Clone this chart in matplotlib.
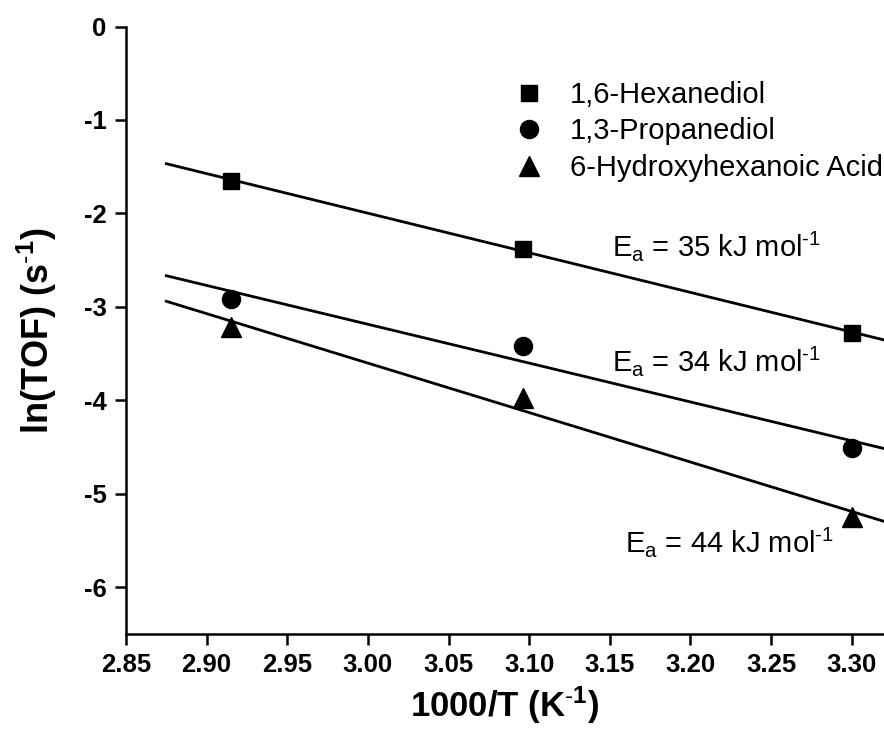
import matplotlib
matplotlib.use('Agg')
import matplotlib.pyplot as plt
import numpy as np

plt.rcParams['font.family'] = ['Liberation Sans', 'DejaVu Sans']
plt.rcParams['mathtext.fontset'] = 'custom'
plt.rcParams['mathtext.rm'] = 'Liberation Sans'
plt.rcParams['mathtext.bf'] = 'Liberation Sans:bold'
plt.rcParams['mathtext.it'] = 'Liberation Sans:italic'
plt.rcParams['axes.unicode_minus'] = False

# data
inv_T = [2.915, 3.096, 3.300]
hexanediol = [-1.65, -2.38, -3.28]
propanediol = [-2.92, -3.42, -4.51]
hydroxyhexanoic = [-3.22, -3.98, -5.25]

names = ['1,6-Hexanediol', '1,3-Propanediol', '6-Hydroxyhexanoic Acid']
markers = ['s', 'o', '^']
msizes = [12, 13, 14]
ea_labels = ['35', '34', '44']
ea_pos = [(3.1515, -2.46), (3.1515, -3.69), (3.1596, -5.62)]

fig = plt.figure(figsize=(8.84, 7.45), dpi=100)
ax = fig.add_axes([0.1425, 0.149, 0.8575, 0.8154])

x = np.array(inv_T)
xfit = np.array([2.875, 3.34])
for ys, m, ms, name in zip([hexanediol, propanediol, hydroxyhexanoic], markers, msizes, names):
    k, b = np.polyfit(x, ys, 1)
    ax.plot(xfit, k * xfit + b, color='black', lw=2.0)
    ax.plot(x, ys, linestyle='none', marker=m, ms=ms, color='black', label=name)

for val, (tx, ty) in zip(ea_labels, ea_pos):
    ax.text(tx, ty, r'E$_\mathrm{a}$ = ' + val + r' kJ mol$^\mathrm{\text{-}1}$', fontsize=21, va='baseline', ha='left')

ax.set_xlim(2.85, 3.32)
ax.set_ylim(-6.5, 0)
ax.set_xticks(np.arange(2.85, 3.31, 0.05))
ax.set_xticklabels([f'{v:.2f}' for v in np.arange(2.85, 3.31, 0.05)])
ax.set_yticks(np.arange(-6, 1, 1))

for s in ['top', 'right']:
    ax.spines[s].set_visible(False)
for s in ['left', 'bottom']:
    ax.spines[s].set_linewidth(1.8)
ax.tick_params(direction='out', length=8, width=1.8, labelsize=18.5, pad=6)
for lab in ax.get_xticklabels() + ax.get_yticklabels():
    lab.set_fontweight('bold')

ax.set_xlabel(r'1000/T (K$^\mathbf{\text{-}1}$)', fontsize=25, fontweight='bold', labelpad=5)
ax.set_ylabel(r'ln(TOF) (s$^\mathbf{\text{-}1}$)', fontsize=26, fontweight='bold', labelpad=18)

ax.legend(loc='upper left', bbox_to_anchor=(0.497, 0.93), frameon=False, fontsize=21,
          handlelength=1.0, handletextpad=0.9, labelspacing=0.3, borderaxespad=0)

fig.savefig('out.png', dpi=100)
